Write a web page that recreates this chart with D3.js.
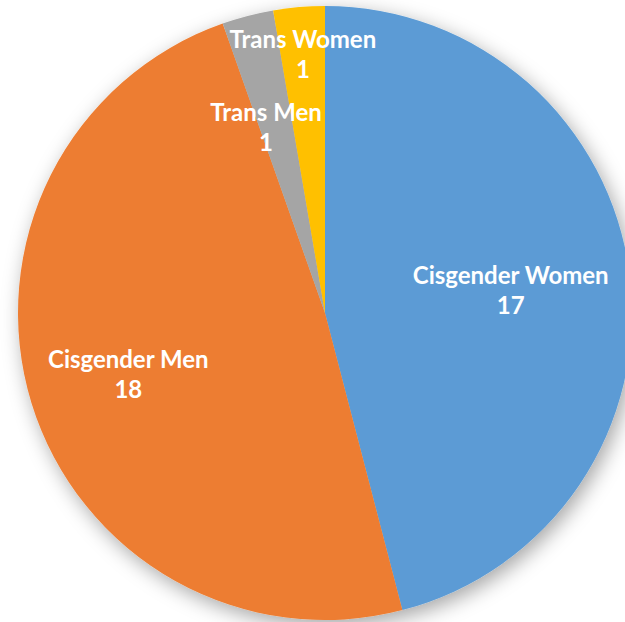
<!DOCTYPE html>
<html>
<head>
<meta charset="utf-8">
<script src="https://cdn.jsdelivr.net/npm/d3@7"></script>
<style>
  html, body { margin: 0; padding: 0; background: #fff; overflow: hidden; }
  .label { font-family: Lato, "Open Sans", sans-serif; font-weight: bold; fill: #fff; }
</style>
</head>
<body>
<script>
'use strict';

// chart data
const categories = ['Cisgender Women', 'Cisgender Men', 'Trans Men', 'Trans Women'];
const counts = [17, 18, 1, 1];
const colours = ['#5B9BD5', '#ED7D31', '#A5A5A5', '#FFC000'];

(function() {
  const width = 625, height = 622;
  const cx = 325, cy = 313, radius = 307;

  // where each label sits, as a fraction of the radius (best fit like the original)
  const labelRadius = [0.61, 0.67, 0.64, 0.85];
  // small angle nudge (radians) for the crowded thin slices
  const labelNudge = [0, 0, -0.05, 0];

  const svg = d3.select('body').append('svg')
    .attr('width', width)
    .attr('height', height);

  // soft shadow round the pie
  const defs = svg.append('defs');
  const filter = defs.append('filter')
    .attr('id', 'shadow')
    .attr('x', '-20%').attr('y', '-20%')
    .attr('width', '140%').attr('height', '140%');
  filter.append('feDropShadow')
    .attr('dx', 4).attr('dy', 6)
    .attr('stdDeviation', 10)
    .attr('flood-color', '#000')
    .attr('flood-opacity', 0.35);

  const rows = categories.map((c, i) => ({ name: c, value: counts[i], colour: colours[i], idx: i }));

  const pie = d3.pie().value(d => d.value).sort(null);
  const arcs = pie(rows);

  const arc = d3.arc().innerRadius(0).outerRadius(radius);

  const g = svg.append('g').attr('transform', `translate(${cx},${cy})`);

  g.append('g')
    .attr('filter', 'url(#shadow)')
    .selectAll('path')
    .data(arcs)
    .enter()
    .append('path')
      .attr('d', arc)
      .attr('fill', d => d.data.colour);

  // labels: name on first line, count below
  const labels = g.selectAll('.label')
    .data(arcs)
    .enter()
    .append('text')
      .attr('class', 'label')
      .attr('text-anchor', 'middle')
      .style('font-size', '24px')
      .attr('transform', d => {
        let r = radius * labelRadius[d.data.idx];
        let a = d3.arc().innerRadius(r).outerRadius(r);
        let n = labelNudge[d.data.idx];
        let p = a.centroid({ startAngle: d.startAngle + n, endAngle: d.endAngle + n });
        return `translate(${p[0]},${p[1]})`;
      });

  labels.append('tspan')
    .attr('x', 0)
    .attr('dy', '-0.2em')
    .text(d => d.data.name);

  labels.append('tspan')
    .attr('x', 0)
    .attr('dy', '1.25em')
    .text(d => d.data.value);

})();
</script>
</body>
</html>
